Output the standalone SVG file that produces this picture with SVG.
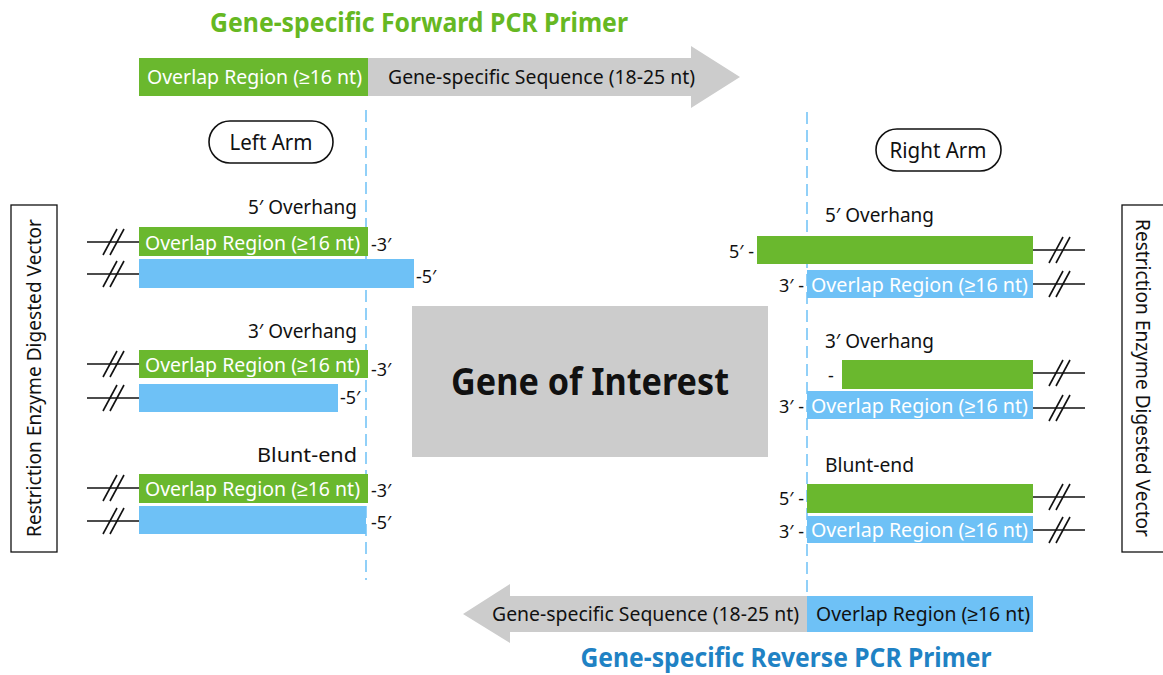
<svg xmlns="http://www.w3.org/2000/svg" xmlns:xlink="http://www.w3.org/1999/xlink" width="1163" height="675" viewBox="0 0 1163 675">
<style>
text{font-family:"Noto Sans","Liberation Sans",sans-serif;}
.g{fill:#6ab82e;}
.b{fill:#6ec1f6;}
.gr{fill:#cccccc;}
.lbl{font-size:19.5px;fill:#111;}
.wt{font-size:19.5px;fill:#fff;}
.dk{font-size:19.5px;fill:#111;}
.end{font-size:18px;fill:#111;}
.dash{stroke:#6ec1f6;stroke-width:1.5;stroke-dasharray:12 6;fill:none;}
.brk line{stroke:#111;stroke-width:1.6;}
.pill{fill:#fff;stroke:#111;stroke-width:1.6;}
.vbox{fill:#fff;stroke:#111;stroke-width:1.3;}
</style>
<defs>
<g id="brk" class="brk">
<line x1="0" y1="0" x2="52" y2="0"/>
<line x1="16" y1="13" x2="30" y2="-13"/>
<line x1="23" y1="13" x2="37" y2="-13"/>
</g>
</defs>

<!-- Forward primer -->
<g id="fwd-primer">
<text x="419" y="32" text-anchor="middle" font-size="26" font-weight="bold" fill="#66b822" textLength="418" lengthAdjust="spacingAndGlyphs">Gene-specific Forward PCR Primer</text>
<polygon class="gr" points="368,58 691,58 691,46 740,77 691,108 691,96 368,96"/>
<rect class="g" x="139" y="58" width="229" height="38"/>
<text class="wt" x="147" y="84" textLength="215" lengthAdjust="spacingAndGlyphs">Overlap Region (≥16 nt)</text>
<text class="dk" x="388" y="84" textLength="307" lengthAdjust="spacingAndGlyphs">Gene-specific Sequence (18-25 nt)</text>
</g>

<!-- Reverse primer -->
<g id="rev-primer">
<polygon class="gr" points="807,596 510,596 510,584 463,614 510,643 510,632 807,632"/>
<rect class="b" x="807" y="596" width="226" height="36"/>
<text class="dk" x="492" y="621" textLength="307" lengthAdjust="spacingAndGlyphs">Gene-specific Sequence (18-25 nt)</text>
<text class="dk" x="816" y="621" textLength="214" lengthAdjust="spacingAndGlyphs">Overlap Region (≥16 nt)</text>
<text x="786" y="667" text-anchor="middle" font-size="26" font-weight="bold" fill="#1f82c4" textLength="411" lengthAdjust="spacingAndGlyphs">Gene-specific Reverse PCR Primer</text>
</g>

<!-- dashed guides -->
<g id="guides">
<line class="dash" x1="366" y1="110" x2="366" y2="580"/>
<line class="dash" x1="807" y1="112" x2="807" y2="596"/>
</g>

<!-- Arm labels -->
<g id="left-arm">
<rect class="pill" x="209" y="121" width="124" height="42" rx="21"/>
<text x="271" y="150" text-anchor="middle" font-size="21" fill="#111" textLength="83" lengthAdjust="spacingAndGlyphs">Left Arm</text>
</g>
<g id="right-arm">
<rect class="pill" x="876" y="129" width="125" height="42" rx="21"/>
<text x="938" y="158" text-anchor="middle" font-size="21" fill="#111" textLength="97" lengthAdjust="spacingAndGlyphs">Right Arm</text>
</g>

<!-- Vector boxes -->
<g id="left-vector">
<rect class="vbox" x="11" y="205" width="46" height="347"/>
<text class="lbl" transform="translate(41,378) rotate(-90)" text-anchor="middle" textLength="318" lengthAdjust="spacingAndGlyphs">Restriction Enzyme Digested Vector</text>
</g>
<g id="right-vector">
<rect class="vbox" x="1122" y="205" width="46" height="347"/>
<text class="lbl" transform="translate(1136,378) rotate(90)" text-anchor="middle" textLength="318" lengthAdjust="spacingAndGlyphs">Restriction Enzyme Digested Vector</text>
</g>

<!-- Gene of interest -->
<g id="gene">
<rect class="gr" x="412" y="306" width="356" height="151"/>
<text x="590" y="395" text-anchor="middle" font-size="38" font-weight="bold" fill="#111" textLength="278" lengthAdjust="spacingAndGlyphs">Gene of Interest</text>
</g>

<!-- Left 5' overhang -->
<g id="left-5overhang">
<text class="lbl" x="357" y="214" text-anchor="end" textLength="109" lengthAdjust="spacingAndGlyphs">5′ Overhang</text>
<use xlink:href="#brk" x="87" y="242"/>
<use xlink:href="#brk" x="87" y="274"/>
<rect class="g" x="139" y="227" width="229" height="29"/>
<rect class="b" x="139" y="259" width="275" height="29"/>
<text class="wt" x="145" y="250" textLength="215" lengthAdjust="spacingAndGlyphs">Overlap Region (≥16 nt)</text>
<text class="end" x="371" y="251">-3′</text>
<text class="end" x="416" y="283">-5′</text>
</g>

<!-- Left 3' overhang -->
<g id="left-3overhang">
<text class="lbl" x="357" y="338" text-anchor="end" textLength="109" lengthAdjust="spacingAndGlyphs">3′ Overhang</text>
<use xlink:href="#brk" x="87" y="364"/>
<use xlink:href="#brk" x="87" y="398"/>
<rect class="g" x="139" y="350" width="229" height="28"/>
<rect class="b" x="139" y="384" width="199" height="28"/>
<text class="wt" x="145" y="372" textLength="215" lengthAdjust="spacingAndGlyphs">Overlap Region (≥16 nt)</text>
<text class="end" x="371" y="376">-3′</text>
<text class="end" x="340" y="404">-5′</text>
</g>

<!-- Left blunt -->
<g id="left-blunt">
<text class="lbl" x="357" y="462" text-anchor="end" textLength="100" lengthAdjust="spacingAndGlyphs">Blunt-end</text>
<use xlink:href="#brk" x="87" y="488"/>
<use xlink:href="#brk" x="87" y="521"/>
<rect class="g" x="139" y="474" width="229" height="29"/>
<rect class="b" x="139" y="506" width="227" height="28"/>
<text class="wt" x="145" y="496" textLength="215" lengthAdjust="spacingAndGlyphs">Overlap Region (≥16 nt)</text>
<text class="end" x="371" y="497">-3′</text>
<text class="end" x="371" y="529">-5′</text>
</g>

<!-- Right 5' overhang -->
<g id="right-5overhang">
<text class="lbl" x="825" y="222" textLength="109" lengthAdjust="spacingAndGlyphs">5′ Overhang</text>
<use xlink:href="#brk" x="1033" y="250"/>
<use xlink:href="#brk" x="1033" y="284"/>
<rect class="g" x="757" y="236" width="276" height="28"/>
<rect class="b" x="807" y="270" width="226" height="28"/>
<text class="wt" x="811" y="292" textLength="217" lengthAdjust="spacingAndGlyphs">Overlap Region (≥16 nt)</text>
<text class="end" x="754" y="258" text-anchor="end">5′ -</text>
<text class="end" x="804" y="292" text-anchor="end">3′ -</text>
</g>

<!-- Right 3' overhang -->
<g id="right-3overhang">
<text class="lbl" x="825" y="348" textLength="109" lengthAdjust="spacingAndGlyphs">3′ Overhang</text>
<use xlink:href="#brk" x="1033" y="373"/>
<use xlink:href="#brk" x="1033" y="408"/>
<rect class="g" x="842" y="360" width="191" height="29"/>
<rect class="b" x="807" y="391" width="226" height="28"/>
<text class="wt" x="811" y="413" textLength="217" lengthAdjust="spacingAndGlyphs">Overlap Region (≥16 nt)</text>
<text class="end" x="828" y="382">-</text>
<text class="end" x="804" y="413" text-anchor="end">3′ -</text>
</g>

<!-- Right blunt -->
<g id="right-blunt">
<text class="lbl" x="825" y="472" textLength="89" lengthAdjust="spacingAndGlyphs">Blunt-end</text>
<use xlink:href="#brk" x="1033" y="497"/>
<use xlink:href="#brk" x="1033" y="530"/>
<rect class="g" x="807" y="484" width="226" height="29"/>
<rect class="b" x="807" y="516" width="226" height="27"/>
<text class="wt" x="811" y="537" textLength="217" lengthAdjust="spacingAndGlyphs">Overlap Region (≥16 nt)</text>
<text class="end" x="804" y="505" text-anchor="end">5′ -</text>
<text class="end" x="804" y="538" text-anchor="end">3′ -</text>
</g>
</svg>
